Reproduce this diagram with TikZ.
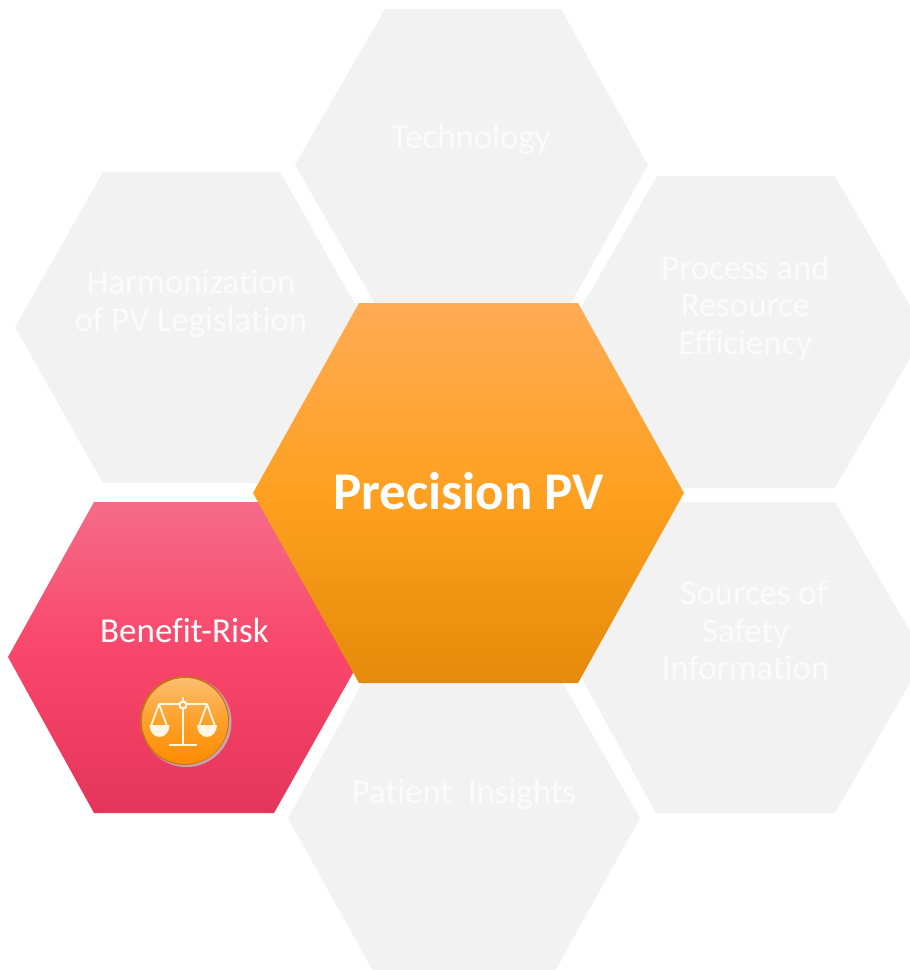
\documentclass[tikz,border=0pt]{standalone}
\usepackage{fontspec}
\setmainfont[Ligatures=NoCommon]{Carlito}
\usetikzlibrary{calc}
\definecolor{hexgray}{HTML}{F2F2F2}
\definecolor{hextext}{HTML}{FBFBFB}
\definecolor{iconline}{HTML}{FFF6E6}
\definecolor{orA}{HTML}{E58A0A}
\definecolor{orB}{HTML}{FFA020}
\definecolor{orC}{HTML}{FFAB55}
\definecolor{piA}{HTML}{E5355B}
\definecolor{piB}{HTML}{F94569}
\definecolor{piC}{HTML}{F56C88}
\definecolor{icA}{HTML}{FF8C00}
\definecolor{icB}{HTML}{FFA028}
\definecolor{icC}{HTML}{FDBE72}
\definecolor{icEdge}{HTML}{C9701A}
\definecolor{icRim}{HTML}{C9A3AC}
\pgfdeclareverticalshading{orangeshade}{100bp}{
  color(0bp)=(orA); color(25bp)=(orA); color(50bp)=(orB); color(75bp)=(orC); color(100bp)=(orC)}
\pgfdeclareverticalshading{pinkshade}{100bp}{
  color(0bp)=(piA); color(25bp)=(piA); color(50bp)=(piB); color(75bp)=(piC); color(100bp)=(piC)}
\pgfdeclareverticalshading{iconshade}{100bp}{
  color(0bp)=(icA); color(25bp)=(icA); color(50bp)=(icB); color(75bp)=(icC); color(100bp)=(icC)}
\tikzset{
  grayhex/.style={fill=hexgray,draw=none},
  graylabel/.style={text=hextext,font=\fontsize{34.8}{37.5}\selectfont,align=center,inner sep=0pt},
  scaleline/.style={draw=iconline,line width=2.2pt},
  scalepan/.style={fill=iconline,draw=none}
}
\begin{document}
\begin{tikzpicture}[x=1pt,y=-1pt]
\useasboundingbox (0,0) rectangle (910,970);
\begin{scope}
\clip (0,0) rectangle (910,970);
% grey hexagons
\fill[grayhex] (295,165) -- (385,9) -- (561,9) -- (648,165) -- (561,321) -- (385,321) -- cycle;
\fill[grayhex] (15,327) -- (103,172) -- (280,172) -- (368,327) -- (280,483) -- (103,483) -- cycle;
\fill[grayhex] (567,332) -- (657,176) -- (835,176) -- (925,332) -- (835,488) -- (657,488) -- cycle;
\fill[grayhex] (570,657) -- (656,502) -- (835,502) -- (925,657) -- (835,813) -- (656,813) -- cycle;
\fill[grayhex] (288,818) -- (373,664) -- (552,664) -- (640,818) -- (554.5,972) -- (373.5,972) -- cycle;
% pink hexagon
\path[shading=pinkshade] (8,657) -- (94,502) -- (274,502) -- (362,657) -- (274,813) -- (94,813) -- cycle;
% centre hexagon
\path[shading=orangeshade] (253,493) -- (359,303) -- (578,303) -- (684,493) -- (578,683) -- (359,683) -- cycle;
\end{scope}
% labels
\node[graylabel] (tech) at (471,139) {Technology};
\node[graylabel] (harm) at (191,303.5) {Harmonization\\of PV Legislation};
\node[graylabel] (proc) at (745.5,307.5) {Process and\\Resource\\Efficiency};
\node[graylabel] (src) at (745.5,630.5) {\hspace{17pt}Sources of\\Safety\\Information};
\node[graylabel] (pat) at (464,794) {Patient\ \ Insights};
\node[text=white,font=\fontsize{35}{40}\selectfont,inner sep=0pt] (ben) at (184.5,630) {Benefit-Risk};
\node[text=white,font=\bfseries\fontsize{53}{60}\selectfont,inner sep=0pt] (prec) at (468.5,491) {Precision PV};
% icon
\fill[icRim] (186.5,722) circle (45);
\fill[icEdge] (184.5,720.5) circle (44.5);
\path[shading=iconshade] (185,721) circle (43);
\draw[scaleline] (183,697) -- (183,745);
\draw[scaleline,line width=2.8pt] (169,745) -- (197,745);
\draw[scaleline] (159,704) -- (207,704);
\draw[scaleline,line width=1.8pt] (159,704) -- (151,726) (159,704) -- (167,726);
\draw[scaleline,line width=1.8pt] (207,704) -- (199,726) (207,704) -- (215,726);
\fill[scalepan] (149.5,725) -- (169.5,725) arc[start angle=0,end angle=180,x radius=10,y radius=12] -- cycle;
\fill[scalepan] (197,725) -- (217,725) arc[start angle=0,end angle=180,x radius=10,y radius=12] -- cycle;
\draw[scaleline,fill=orange!70!white] (183,705) circle (3.5);
\end{tikzpicture}
\end{document}
